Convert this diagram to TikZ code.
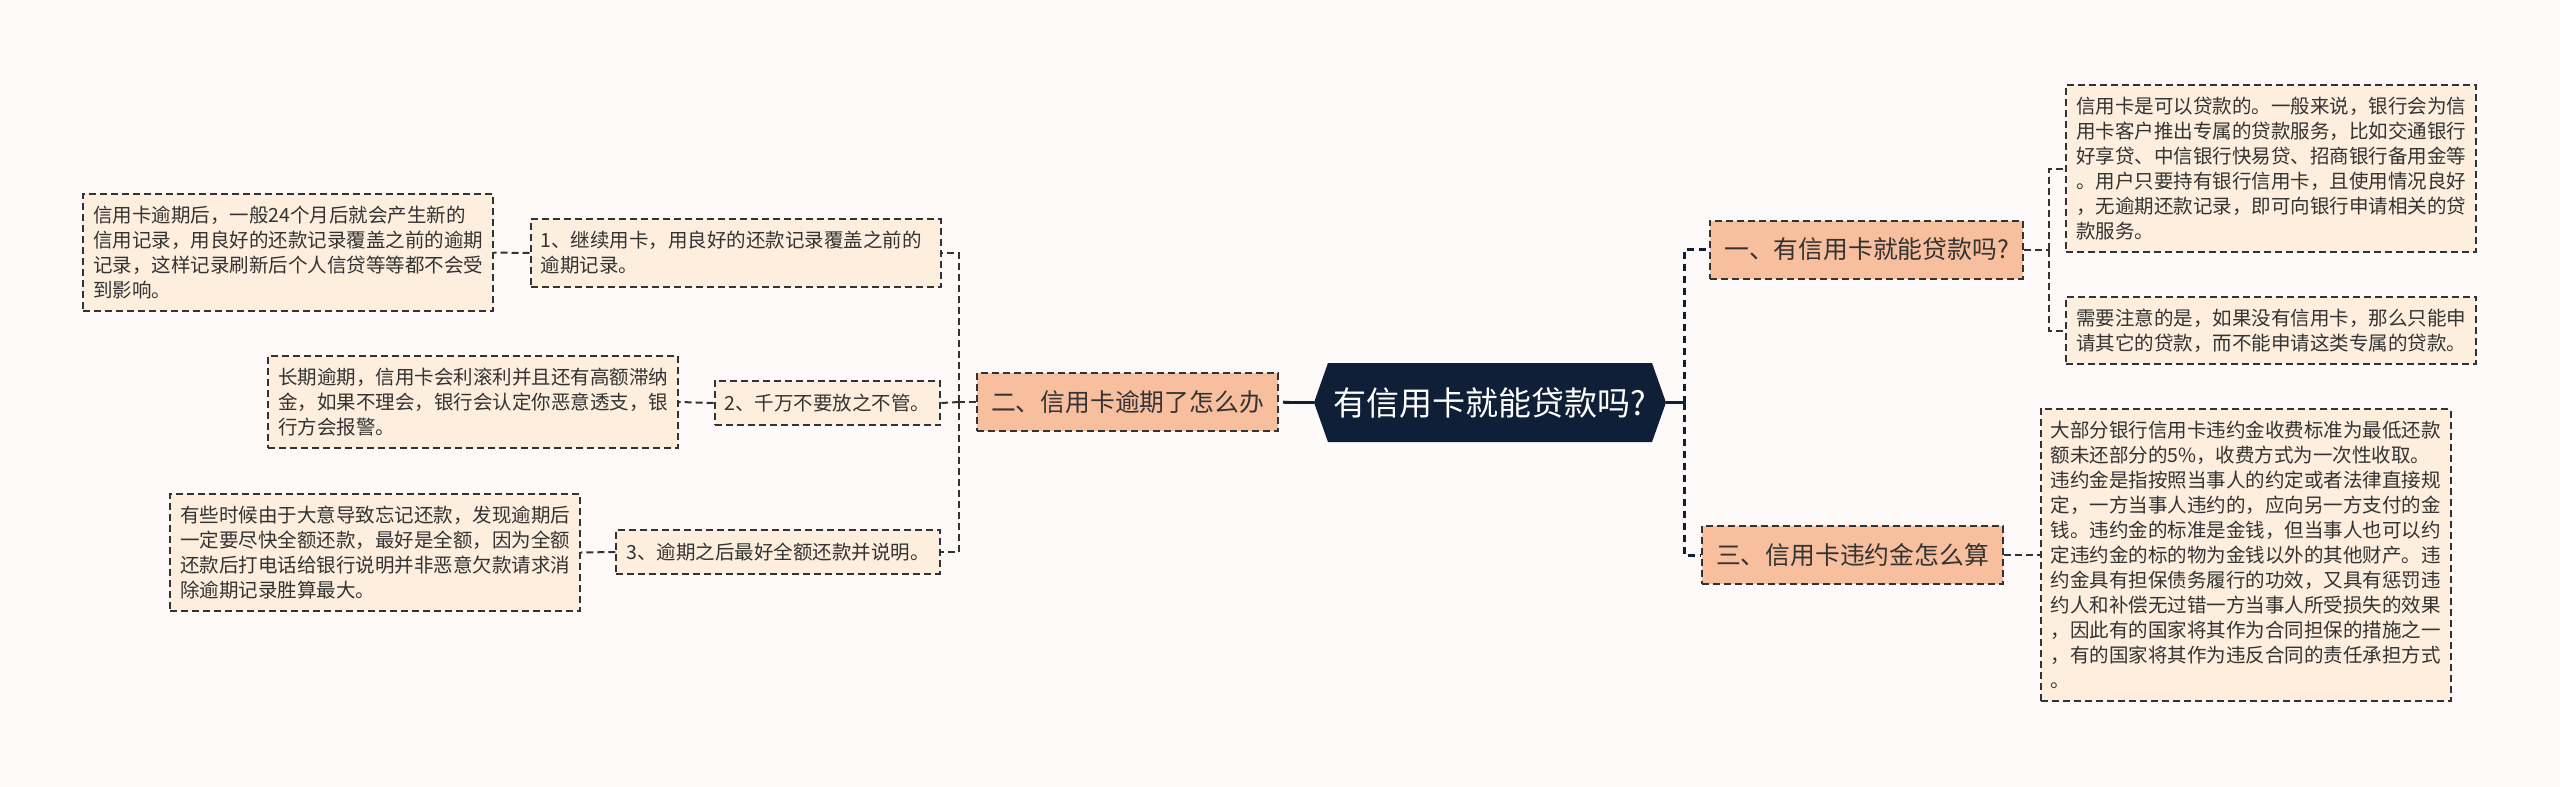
\documentclass[tikz,border=0pt]{standalone}
\usepackage{fontspec}
\setmainfont{Noto Sans CJK SC}
\usetikzlibrary{shapes.symbols}
\definecolor{rootnavy}{HTML}{0F1F38}
\definecolor{topicfill}{HTML}{F8BF9F}
\definecolor{leaffill}{HTML}{FDEEDE}
\definecolor{bgpink}{HTML}{FDFAF9}
\definecolor{edgegray}{HTML}{333333}
\begin{document}
\begin{tikzpicture}[x=0.5pt, y=-0.5pt,
  box/.style={draw=edgegray, line width=1pt, dash pattern=on 3.5pt off 2pt, text=edgegray},
  leafbox/.style={box, fill=leaffill, font=\fontsize{9.75pt}{12.5pt}\selectfont, align=left, text width=195pt, inner xsep=5pt, inner ysep=6pt},
  subbox/.style={box, fill=leaffill, font=\fontsize{9.75pt}{12.5pt}\selectfont, inner xsep=5pt, minimum height=22pt, inner ysep=0pt},
  topicbox/.style={box, fill=topicfill, font=\fontsize{12.4pt}{15pt}\selectfont, inner xsep=7pt, minimum height=29pt, inner ysep=0pt},
  rootnode/.style={signal, signal to=west and east, signal pointer angle=141, fill=rootnavy, text=white, font=\fontsize{16.5pt}{20pt}\selectfont, minimum width=176pt, minimum height=39.5pt, inner sep=0pt},
  link/.style={draw=edgegray, line width=1pt, dash pattern=on 3.5pt off 2pt},
  mainlink/.style={draw=rootnavy, line width=1.5pt, dash pattern=on 3.5pt off 2.5pt},
  mainstub/.style={draw=rootnavy, line width=1.5pt}]
\useasboundingbox (0,0) rectangle (2560,787);
\fill[bgpink] (0,0) rectangle (2560,787);

% centre
\node[rootnode] (root) at (1490,402.5) {有信用卡就能贷款吗?};

% left: 信用卡逾期
\node[topicbox] (b2) at (1127.5,402) {二、信用卡逾期了怎么办};
\node[leafbox] (i1) at (735.5,253) {1、继续用卡，用良好的还款记录覆盖之前的\\逾期记录。};
\node[subbox] (i2) at (827.5,403) {2、千万不要放之不管。};
\node[subbox] (i3) at (778,552) {3、逾期之后最好全额还款并说明。};
\node[leafbox] (l1) at (288,252.5) {信用卡逾期后，一般24个月后就会产生新的\\信用记录，用良好的还款记录覆盖之前的逾期\\记录，这样记录刷新后个人信贷等等都不会受\\到影响。};
\node[leafbox] (l2) at (473,402) {长期逾期，信用卡会利滚利并且还有高额滞纳\\金，如果不理会，银行会认定你恶意透支，银\\行方会报警。};
\node[leafbox] (l3) at (375,552.5) {有些时候由于大意导致忘记还款，发现逾期后\\一定要尽快全额还款，最好是全额，因为全额\\还款后打电话给银行说明并非恶意欠款请求消\\除逾期记录胜算最大。};

% right: 贷款 / 违约金
\node[topicbox] (b1) at (1866.5,249.5) {一、有信用卡就能贷款吗?};
\node[topicbox] (b3) at (1852.5,555) {三、信用卡违约金怎么算};
\node[leafbox] (r1) at (2271,168.5) {信用卡是可以贷款的。一般来说，银行会为信\\用卡客户推出专属的贷款服务，比如交通银行\\好享贷、中信银行快易贷、招商银行备用金等\\。用户只要持有银行信用卡，且使用情况良好\\，无逾期还款记录，即可向银行申请相关的贷\\款服务。};
\node[leafbox] (r2) at (2271,330.5) {需要注意的是，如果没有信用卡，那么只能申\\请其它的贷款，而不能申请这类专属的贷款。};
\node[leafbox] (r3) at (2245.5,555) {大部分银行信用卡违约金收费标准为最低还款\\额未还部分的5\%，收费方式为一次性收取。\\违约金是指按照当事人的约定或者法律直接规\\定，一方当事人违约的，应向另一方支付的金\\钱。违约金的标准是金钱，但当事人也可以约\\定违约金的标的物为金钱以外的其他财产。违\\约金具有担保债务履行的功效，又具有惩罚违\\约人和补偿无过错一方当事人所受损失的效果\\，因此有的国家将其作为合同担保的措施之一\\，有的国家将其作为违反合同的责任承担方式\\。};

% junctions
\coordinate (jl) at (1290,402.5);
\coordinate (jr) at (1684,402.5);
\coordinate (jb2) at (959,402);
\coordinate (jb1) at (2049,249.5);

% connectors from the centre
\draw[mainstub] (root.west) -- (jl);
\draw[mainlink] (jl) -- (b2.east);
\draw[mainstub] (root.east) -- (jr);
\draw[mainlink] (jr) |- (b1.west);
\draw[mainlink] (jr) |- (b3.west);

% connectors to the items
\draw[link] (b2.west) -- (jb2);
\draw[link] (jb2) |- (i1.east);
\draw[link] (jb2) -- (i2.east);
\draw[link] (jb2) |- (i3.east);
\draw[link] (i1.west) -- (l1.east);
\draw[link] (i2.west) -- (l2.east);
\draw[link] (i3.west) -- (l3.east);
\draw[link] (b1.east) -- (jb1);
\draw[link] (jb1) |- (r1.west);
\draw[link] (jb1) |- (r2.west);
\draw[link] (b3.east) -- (r3.west);
\end{tikzpicture}
\end{document}
